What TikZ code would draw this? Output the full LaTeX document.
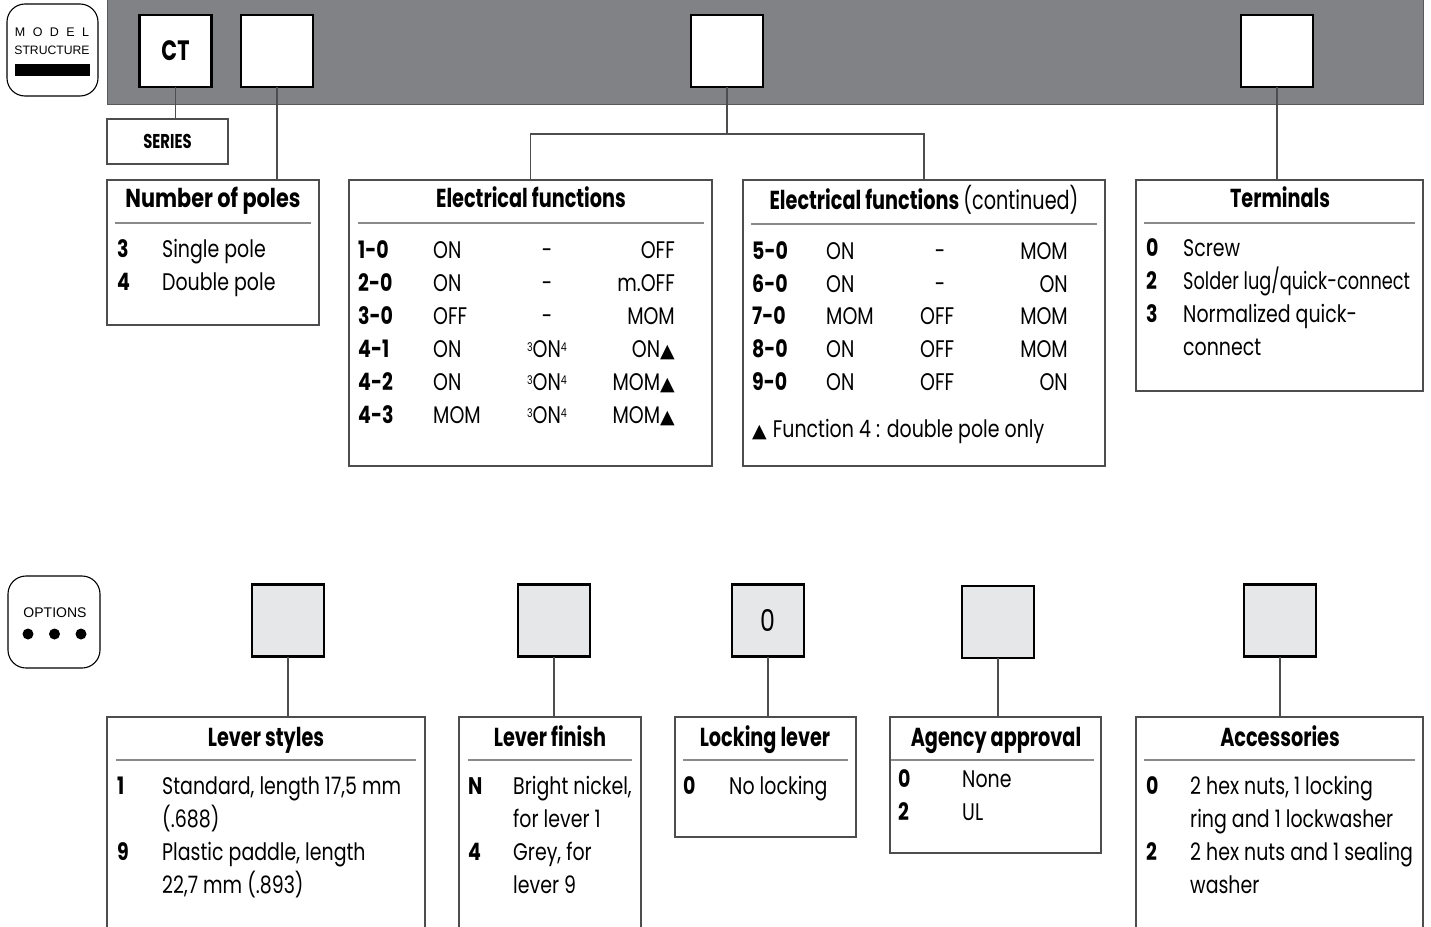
\documentclass[tikz,border=0pt]{standalone}
\usepackage{fontspec}
\setmainfont[FakeStretch=0.79]{Poppins}
\newfontfamily\ttlfam[FakeStretch=0.74]{Poppins}
\newfontfamily\helv{Liberation Sans}
\newfontfamily\sym{DejaVu Sans}
\definecolor{barfill}{HTML}{808285}
\definecolor{baredge}{HTML}{58595B}
\definecolor{bord}{HTML}{4D4D4F}
\definecolor{rulec}{HTML}{8A8A8C}
\definecolor{sqfill}{HTML}{E6E7E8}
\newcommand{\bodyf}{\fontsize{24}{28}\selectfont}
\newcommand{\numf}{\fontsize{24}{28}\selectfont\bfseries}
\newcommand{\ttlf}{\ttlfam\fontsize{26}{30}\selectfont\bfseries}
\newcommand{\tri}{{\sym\fontsize{19}{20}\selectfont ▲}}
\newcommand{\sON}{\raisebox{6pt}{\fontsize{12}{12}\selectfont 3}ON\raisebox{6pt}{\fontsize{12}{12}\selectfont 4}}
\begin{document}
\begin{tikzpicture}[x=1pt,y=-1pt,
  box/.style={draw=bord, line width=1.1pt, inner sep=0, outer sep=0, anchor=north west},
  openbox/.style={inner sep=0, outer sep=0, anchor=north west},
  sqw/.style={draw=black, line width=2.6pt, fill=white, minimum size=72pt, inner sep=0, outer sep=0},
  sqg/.style={sqw, fill=sqfill},
  conn/.style={draw=bord, line width=1.1pt},
  rulel/.style={draw=rulec, line width=1.3pt},
  ttl/.style={anchor=base, inner sep=0, font=\ttlf},
  itm/.style={anchor=base west, inner sep=0, font=\bodyf},
  num/.style={anchor=base west, inner sep=0, font=\numf},
  rgt/.style={anchor=base east, inner sep=0, font=\bodyf},
  ctr/.style={anchor=base, inner sep=0, font=\bodyf},
  icon/.style={draw=black, line width=1.1pt, rounded corners=18pt}]
\useasboundingbox (0,0) rectangle (1431,926);

% ---------- icons ----------
\draw[icon] (7,4) rectangle (98,96);
\node[inner sep=0, font=\helv\fontsize{12.5}{13}\selectfont] (mdl) at (52,32) {M\hspace{7.4pt}O\hspace{7.4pt}D\hspace{7.4pt}E\hspace{7.4pt}L};
\node[inner sep=0, font=\helv\fontsize{12.2}{13}\selectfont] (strc) at (52,50) {STRUCTURE};
\fill[black] (15,64) rectangle (90,76);

\draw[icon] (8,576) rectangle (100,668);
\node[inner sep=0, font=\helv\fontsize{14}{15}\selectfont] (opt) at (55,613) {OPTIONS};
\fill (28,634) circle (5.5) (54.5,634) circle (5.5) (81,634) circle (5.5);

% ---------- top bar ----------
\draw[fill=barfill, draw=baredge, line width=1pt] (107,-2) rectangle (1423,104);
\node[sqw, font=\ttlfam\fontsize{28}{30}\selectfont\bfseries] (ct) at (175.5,51) {CT};
\node[sqw] (b2) at (277,51) {};
\node[sqw] (b3) at (727,51) {};
\node[sqw] (b4) at (1277,51) {};

% ---------- top boxes ----------
\node[box, minimum width=121pt, minimum height=45pt, font=\ttlfam\fontsize{20}{22}\selectfont\bfseries] (series) at (107,119) {SERIES};
\node[box, minimum width=212pt, minimum height=145pt] (poles) at (107,180) {};
\node[box, minimum width=363pt, minimum height=286pt] (ef1) at (349,180) {};
\node[box, minimum width=362pt, minimum height=286pt] (ef2) at (743,180) {};
\node[box, minimum width=287pt, minimum height=211pt] (term) at (1136,180) {};

\coordinate (split) at (727,134);
\draw[conn] (ct.south) -- (ct.south |- series.north);
\draw[conn] (b2.south) -- (b2.south |- poles.north);
\draw[conn] (b3.south) -- (split);
\draw[conn] (ef1.north) |- (split) -| (ef2.north);
\draw[conn] (b4.south) -- (b4.south |- term.north);

% Number of poles
\node[ttl, font=\ttlfam\fontsize{26}{30}\selectfont\bfseries\addfontfeatures{FakeStretch=0.8}] (tp) at (213,207) {Number of poles};
\draw[rulel] (115,223) -- (311,223);
\node[num] (p1n) at (117,257) {3}; \node[itm] (p1t) at (162,257) {Single pole};
\node[num] (p2n) at (117,290) {4}; \node[itm] (p2t) at (162,290) {Double pole};

% Electrical functions
\node[ttl] (te1) at (531,207) {Electrical functions};
\draw[rulel] (358,223) -- (704,223);
\node[num] (e1a) at (358,258) {1-0}; \node[itm] (e1b) at (433,258) {ON};  \node[ctr] (e1c) at (547,258) {-}; \node[rgt] (e1d) at (675,258) {OFF};
\node[num] (e2a) at (358,291) {2-0}; \node[itm] (e2b) at (433,291) {ON};  \node[ctr] (e2c) at (547,291) {-}; \node[rgt] (e2d) at (675,291) {m.OFF};
\node[num] (e3a) at (358,324) {3-0}; \node[itm] (e3b) at (433,324) {OFF}; \node[ctr] (e3c) at (547,324) {-}; \node[rgt] (e3d) at (675,324) {MOM};
\node[num] (e4a) at (358,357) {4-1}; \node[itm] (e4b) at (433,357) {ON};  \node[ctr] (e4c) at (547,357) {\sON}; \node[rgt] (e4d) at (675,357) {ON\tri};
\node[num] (e5a) at (358,390) {4-2}; \node[itm] (e5b) at (433,390) {ON};  \node[ctr] (e5c) at (547,390) {\sON}; \node[rgt] (e5d) at (675,390) {MOM\tri};
\node[num] (e6a) at (358,423) {4-3}; \node[itm] (e6b) at (433,423) {MOM}; \node[ctr] (e6c) at (547,423) {\sON}; \node[rgt] (e6d) at (675,423) {MOM\tri};

% Electrical functions (continued)
\node[ttl] (te2) at (924,209) {Electrical functions {\mdseries (continued)}};
\draw[rulel] (751,224) -- (1097,224);
\node[num] (f1a) at (752,259) {5-0}; \node[itm] (f1b) at (826,259) {ON};  \node[ctr] (f1c) at (940,259) {-};   \node[rgt] (f1d) at (1068,259) {MOM};
\node[num] (f2a) at (752,292) {6-0}; \node[itm] (f2b) at (826,292) {ON};  \node[ctr] (f2c) at (940,292) {-};   \node[rgt] (f2d) at (1068,292) {ON};
\node[num] (f3a) at (752,324) {7-0}; \node[itm] (f3b) at (826,324) {MOM}; \node[itm] (f3c) at (920,324) {OFF}; \node[rgt] (f3d) at (1068,324) {MOM};
\node[num] (f4a) at (752,357) {8-0}; \node[itm] (f4b) at (826,357) {ON};  \node[itm] (f4c) at (920,357) {OFF}; \node[rgt] (f4d) at (1068,357) {MOM};
\node[num] (f5a) at (752,390) {9-0}; \node[itm] (f5b) at (826,390) {ON};  \node[itm] (f5c) at (920,390) {OFF}; \node[rgt] (f5d) at (1068,390) {ON};
\node[itm] (fnote) at (752,437) {\tri\hspace{6pt}Function 4 : double pole only};

% Terminals
\node[ttl] (tt) at (1280,207) {Terminals};
\draw[rulel] (1144,223) -- (1415,223);
\node[num] (t1n) at (1146,256) {0}; \node[itm] (t1t) at (1183,256) {Screw};
\node[num] (t2n) at (1146,289) {2}; \node[itm] (t2t) at (1183,289) {\scalebox{0.935}[1]{Solder lug/quick-connect}};
\node[num] (t3n) at (1146,322) {3}; \node[itm] (t3t) at (1183,322) {Normalized quick-};
\node[itm] (t4t) at (1183,355) {connect};

% ---------- options ----------
\node[sqg] (o1) at (288,620.5) {};
\node[sqg] (o2) at (554,620.5) {};
\node[sqg, font=\fontsize{30}{32}\selectfont] (o3) at (768,620.5) {0};
\node[sqg] (o4) at (998,622) {};
\node[sqg] (o5) at (1280,620.5) {};

\node[openbox, minimum width=318pt, minimum height=211pt] (lev) at (107,717) {};
\node[openbox, minimum width=182pt, minimum height=211pt] (fin) at (459,717) {};
\node[box, minimum width=181pt, minimum height=120pt] (lock) at (675,717) {};
\node[box, minimum width=211pt, minimum height=136pt] (agy) at (890,717) {};
\node[openbox, minimum width=287pt, minimum height=211pt] (acc) at (1136,717) {};
\foreach \b in {lev,fin,acc}
  \draw[draw=bord, line width=1.1pt] (\b.south west) -- (\b.north west) -- (\b.north east) -- (\b.south east);

\draw[conn] (o1.south) -- (o1.south |- lev.north);
\draw[conn] (o2.south) -- (o2.south |- fin.north);
\draw[conn] (o3.south) -- (o3.south |- lock.north);
\draw[conn] (o4.south) -- (o4.south |- agy.north);
\draw[conn] (o5.south) -- (o5.south |- acc.north);

% Lever styles
\node[ttl] (tl) at (266,746) {Lever styles};
\draw[rulel] (116,760) -- (416,760);
\node[num] (l1n) at (117,794) {1}; \node[itm] (l1t) at (162,794) {Standard, length 17,5 mm};
\node[itm] (l2t) at (162,827) {(.688)};
\node[num] (l3n) at (117,860) {9}; \node[itm] (l3t) at (162,860) {Plastic paddle, length};
\node[itm] (l4t) at (162,893) {22,7 mm (.893)};

% Lever finish
\node[ttl] (tf) at (550,746) {Lever finish};
\draw[rulel] (468,760) -- (632,760);
\node[num] (n1n) at (468,794) {N}; \node[itm] (n1t) at (513,794) {Bright nickel,};
\node[itm] (n2t) at (513,827) {for lever 1};
\node[num] (n3n) at (468,860) {4}; \node[itm] (n3t) at (513,860) {Grey, for};
\node[itm] (n4t) at (513,893) {lever 9};

% Locking lever
\node[ttl] (tk) at (765,746) {Locking lever};
\draw[rulel] (683,760) -- (848,760);
\node[num] (k1n) at (683,794) {0}; \node[itm] (k1t) at (729,794) {No locking};

% Agency approval
\node[ttl] (ta) at (996,746) {Agency approval};
\draw[rulel] (891,760) -- (1094,760);
\node[num] (a1n) at (898,787) {0}; \node[itm] (a1t) at (962,787) {None};
\node[num] (a2n) at (898,820) {2}; \node[itm] (a2t) at (962,820) {UL};

% Accessories
\node[ttl] (tc) at (1280,746) {Accessories};
\draw[rulel] (1144,760) -- (1415,760);
\node[num] (c1n) at (1146,794) {0}; \node[itm] (c1t) at (1190,794) {2 hex nuts, 1 locking};
\node[itm] (c2t) at (1190,827) {ring and 1 lockwasher};
\node[num] (c3n) at (1146,860) {2}; \node[itm] (c3t) at (1190,860) {2 hex nuts and 1 sealing};
\node[itm] (c4t) at (1190,893) {washer};
\end{tikzpicture}
\end{document}
